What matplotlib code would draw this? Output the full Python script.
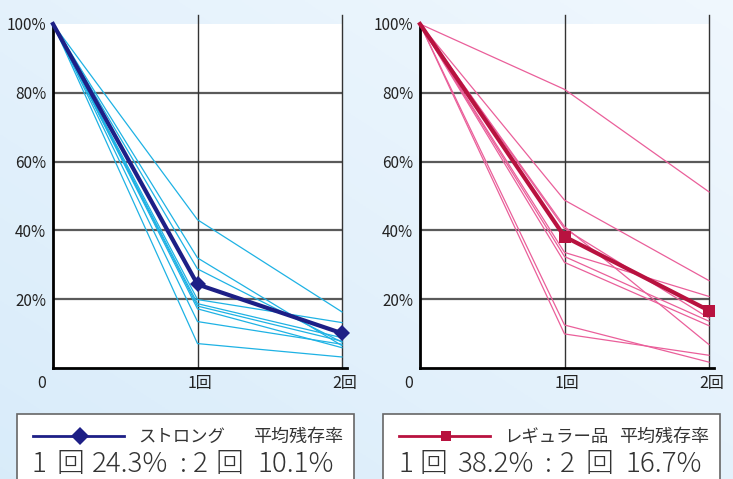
import numpy as np
import matplotlib.pyplot as plt
from matplotlib.patches import Rectangle
from matplotlib.lines import Line2D

W, H = 733, 479
NUM_FONT = ['Noto Sans CJK JP', 'DejaVu Sans']
JP_FONT = ['Noto Sans CJK JP', 'DejaVu Sans']

rounds = [0, 1, 2]
xlabels = ['0', '1回', '2回']
yticks = [20, 40, 60, 80, 100]

strong_avg = [100, 24.3, 10.1]
strong_r1 = [43.1, 32.0, 28.8, 19.9, 18.7, 18.0, 17.2, 13.5, 7.1]
strong_r2 = [16.3, 6.5, 7.5, 13.2, 8.8, 7.8, 5.9, 6.9, 3.2]

regular_avg = [100, 38.2, 16.7]
regular_r1 = [81.0, 48.8, 41.1, 40.5, 33.6, 32.4, 30.7, 12.5, 9.9]
regular_r2 = [51.2, 25.4, 6.8, 14.5, 20.8, 13.6, 12.3, 1.7, 3.7]

legend_names = ['ストロング', 'レギュラー品']
legend_title = '平均残存率'
strong_vals = ['1', '回', '24.3%', ':', '2', '回', '10.1%']
regular_vals = ['1', '回', '38.2%', ':', '2', '回', '16.7%']

fig = plt.figure(figsize=(W / 100, H / 100), dpi=100)

# background gradient
bg = fig.add_axes([0, 0, 1, 1], zorder=-10)
gx, gy = np.meshgrid(np.linspace(0, 1, 200), np.linspace(0, 1, 200))
g = 0.5 * gx + 0.5 * (1 - gy)
c1 = np.array([0.85, 0.925, 0.98])
c2 = np.array([0.94, 0.97, 0.995])
img = c1 + (c2 - c1) * g[..., None]
bg.imshow(img, aspect='auto', extent=[0, 1, 0, 1], origin='upper')
bg.axis('off')


def px(x, y):
    return x / W, 1 - y / H


def panel(left, r1, r2, avg, thin_col, main_col, marker):
    x0, y0 = px(left, 368)
    ax = fig.add_axes([x0, y0, 289 / W, 344 / H])
    ax.set_facecolor('white')
    ax.set_xlim(0, 2)
    ax.set_ylim(0, 100)
    for y in [20, 40, 60, 80]:
        ax.axhline(y, color='#5a5a5a', lw=1.6, zorder=1)
    for x in [1, 2]:
        ax.plot([x, x], [0, 102.5], color='#333333', lw=1.0, zorder=1, clip_on=False)
    for a, b in zip(r1, r2):
        ax.plot(rounds, [100, a, b], color=thin_col, lw=0.9, zorder=2, clip_on=False)
    ax.plot(rounds, avg, color=main_col, lw=3.0, zorder=3, clip_on=False)
    ax.plot(rounds[1:], avg[1:], ls='none', marker=marker, ms=8,
            mew=0, color=main_col, zorder=4, clip_on=False)
    for s in ['top', 'right']:
        ax.spines[s].set_visible(False)
    ax.spines['left'].set_linewidth(2)
    ax.spines['bottom'].set_linewidth(2)
    ax.spines['bottom'].set_bounds(0, 2.035)
    ax.set_xticks([])
    ax.set_yticks(yticks)
    ax.set_yticklabels([f'{v}%' for v in yticks], family=NUM_FONT, fontsize=11, color='#222222')
    ax.tick_params(axis='y', length=0, pad=5)
    ax.text(-0.08, -4.4, xlabels[0], ha='center', va='center', family=NUM_FONT,
            fontsize=11.5, color='#222222')
    for x, lab in zip(rounds[1:], xlabels[1:]):
        ax.text(x + 0.02, -4.4, lab, ha='center', va='center', family=NUM_FONT,
                fontsize=11.5, color='#222222')
    return ax


panel(53, strong_r1, strong_r2, strong_avg, '#1eb2e4', '#1d1f86', 'D')
panel(420, regular_r1, regular_r2, regular_avg, '#ea5f9a', '#b8123f', 's')

# legend boxes
boxes = [
    (17, 354, '#1d1f86', 'D', legend_names[0], strong_vals, [31, 57, 92, 180, 193, 216, 258]),
    (383, 720, '#b8123f', 's', legend_names[1], regular_vals, [398, 419, 457, 545, 560, 586, 626]),
]
for bx0, bx1, col, mk, name, vals, xs in boxes:
    fx, fy = px(bx0, 520)
    fig.patches.append(Rectangle((fx, fy), (bx1 - bx0) / W, (520 - 414) / H,
                                 transform=fig.transFigure, facecolor='white',
                                 edgecolor='#666666', lw=1.2, zorder=1))
    lx0, ly = px(bx0 + 16, 436)
    lx1, _ = px(bx0 + 107, 436)
    fig.lines.append(Line2D([lx0, lx1], [ly, ly], transform=fig.transFigure, color=col,
                            lw=2, zorder=2))
    mx, _ = px(bx0 + 63, 436)
    fig.lines.append(Line2D([mx], [ly], transform=fig.transFigure, color=col, marker=mk,
                            ms=9 if mk == 'D' else 7, mew=0, zorder=3))
    tx, ty = px(bx0 + 121, 437)
    fig.text(tx, ty, name, ha='left', va='center', family=JP_FONT, fontsize=12.5,
             color='#333333')
    tx2, _ = px(bx1 - 11, 437)
    fig.text(tx2, ty, legend_title, ha='right', va='center', family=JP_FONT, fontsize=13,
             color='#333333')
    for s, x in zip(vals, xs):
        vx, vy = px(x, 464)
        fig.text(vx, vy, s, ha='left', va='center', family=JP_FONT, fontsize=20,
                 fontweight='light', color='#333333')

fig.savefig('out.png', dpi=100)
